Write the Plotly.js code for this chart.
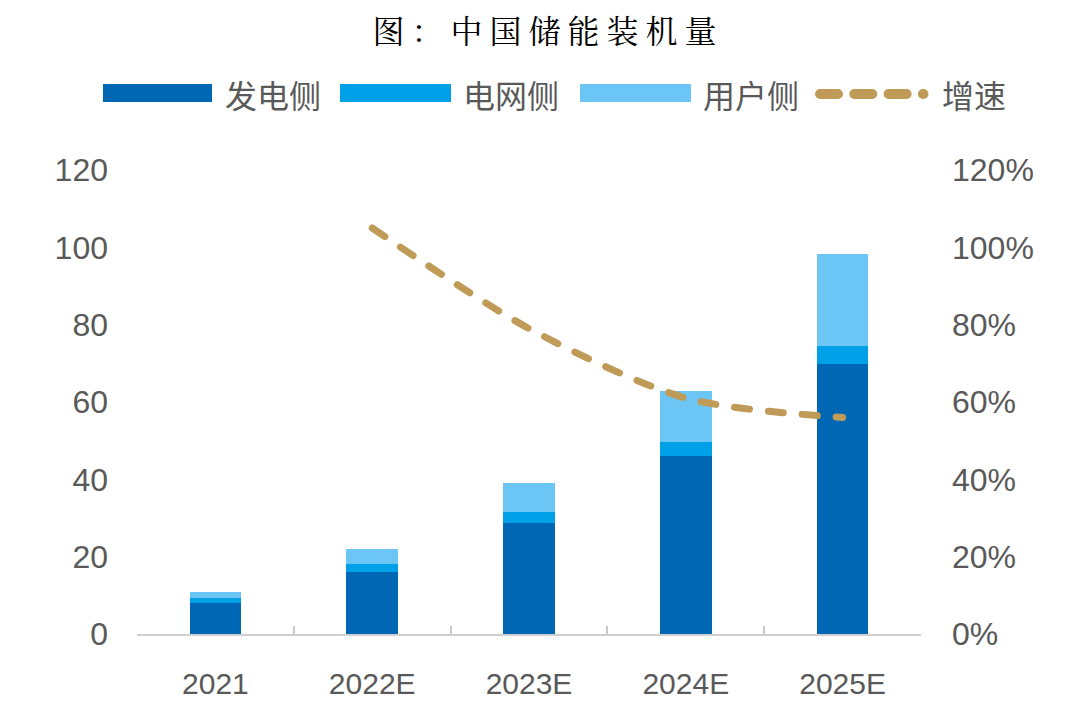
<!DOCTYPE html>
<html>
<head>
<meta charset="utf-8">
<script src="https://cdn.plot.ly/plotly-3.0.1.min.js"></script>
<style>
  html, body { margin: 0; padding: 0; background: #fff; }
  #chart { width: 1080px; height: 718px; }
  .js-line { stroke-linecap: round; }
  .shapelayer path { stroke-linecap: round; }
  .gtitle { letter-spacing: 7px; }
</style>
</head>
<body>
<div id="chart"></div>
<script>
// ---- data ----
const categories = ['2021', '2022E', '2023E', '2024E', '2025E'];
const generationSide = [7.9, 16.1, 28.8, 46.0, 69.7];   // 发电侧
const gridSide       = [1.4, 2.0, 2.7, 3.6, 4.8];       // 电网侧
const userSide       = [1.6, 3.9, 7.5, 13.2, 23.8];     // 用户侧
const growthRate     = [null, 1.05, 0.79, 0.61, 0.56];  // 增速
const seriesNames = ['发电侧', '电网侧', '用户侧', '增速'];
const leftTicks  = [0, 20, 40, 60, 80, 100, 120];
const rightTicks = [0, 0.2, 0.4, 0.6, 0.8, 1.0, 1.2];
const titleText = '图：中国储能装机量';

// ---- style ----
const colors = ['#0067B4', '#00A0E9', '#6BC6F5', '#BF9B57'];
const tickColor = '#595959';
const font = 'Arial, "Liberation Sans", "Noto Sans CJK SC", sans-serif';
const W = 1080, H = 718;
const L = 137, R = 921, T = 170, B = 634;
const px = x => (x - L) / (R - L);
const py = y => (B - y) / (B - T);

const traces = [
  { type: 'bar', x: categories, y: generationSide, name: seriesNames[0], marker: { color: colors[0] } },
  { type: 'bar', x: categories, y: gridSide, name: seriesNames[1], marker: { color: colors[1] } },
  { type: 'bar', x: categories, y: userSide, name: seriesNames[2], marker: { color: colors[2] } },
  { type: 'scatter', mode: 'lines', x: categories, y: growthRate, name: seriesNames[3], yaxis: 'y2',
    connectgaps: false,
    line: { color: colors[3], width: 7, dash: '15px,19px', shape: 'spline', smoothing: 0.8 } }
];

// custom legend (long swatches like the reference)
const legendItems = [
  { sx0: 103, sx1: 212, tx: 223, kind: 'rect', color: colors[0], label: seriesNames[0] },
  { sx0: 340, sx1: 451, tx: 461, kind: 'rect', color: colors[1], label: seriesNames[1] },
  { sx0: 580, sx1: 691, tx: 701, kind: 'rect', color: colors[2], label: seriesNames[2] },
  { sx0: 820, sx1: 923.5, tx: 940, kind: 'line', color: colors[3], label: seriesNames[3] }
];
const shapes = [];
const annotations = [];
legendItems.forEach(it => {
  if (it.kind === 'rect') {
    shapes.push({ type: 'rect', xref: 'paper', yref: 'paper',
      x0: px(it.sx0), x1: px(it.sx1), y0: py(102), y1: py(84),
      fillcolor: it.color, line: { width: 0 } });
  } else {
    shapes.push({ type: 'line', xref: 'paper', yref: 'paper',
      x0: px(it.sx0), x1: px(it.sx1), y0: py(94), y1: py(94),
      line: { color: it.color, width: 10, dash: '18px,16.3px' } });
  }
  annotations.push({ xref: 'paper', yref: 'paper', x: px(it.tx), y: py(94),
    xanchor: 'left', yanchor: 'middle', showarrow: false, text: it.label,
    font: { family: '"Noto Sans CJK SC", sans-serif', size: 32, color: tickColor } });
});

const layout = {
  width: W, height: H,
  margin: { l: L, r: W - R, t: T, b: H - B, pad: 0 },
  paper_bgcolor: '#fff', plot_bgcolor: '#fff',
  showlegend: false,
  barmode: 'stack',
  bargap: 0.67,
  title: { text: titleText, x: px(548), xref: 'paper', xanchor: 'center', y: 1 - 32 / H, yanchor: 'middle',
    font: { family: '"Noto Serif CJK SC", "Noto Sans CJK SC", serif', size: 32, color: '#000' } },
  xaxis: {
    type: 'category', range: [-0.5, 4.5], fixedrange: true,
    showline: true, linecolor: '#D0D0D0', linewidth: 2,
    ticks: 'inside', tickson: 'boundaries', ticklen: 8, tickwidth: 2, tickcolor: '#C8C8C8',
    showgrid: false, zeroline: false,
    tickfont: { family: font, size: 30, color: tickColor },
    ticklabelstandoff: 22
  },
  yaxis: {
    range: [0, 120], tickvals: leftTicks, ticktext: leftTicks.map(String),
    showgrid: false, zeroline: false, showline: false, ticks: '',
    tickfont: { family: font, size: 32, color: tickColor },
    ticklabelstandoff: 28
  },
  yaxis2: {
    overlaying: 'y', side: 'right', range: [0, 1.2], tickvals: rightTicks,
    tickformat: '.0%',
    showgrid: false, zeroline: false, showline: false, ticks: '',
    tickfont: { family: font, size: 32, color: tickColor },
    ticklabelstandoff: 30
  },
  shapes: shapes,
  annotations: annotations
};

Plotly.newPlot('chart', traces, layout, { displayModeBar: false, staticPlot: true });
</script>
</body>
</html>
